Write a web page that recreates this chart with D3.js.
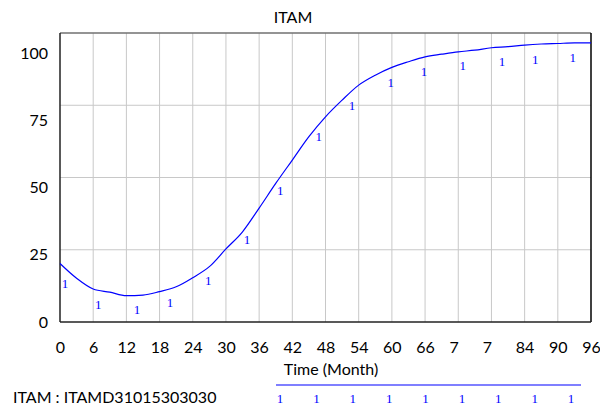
<!DOCTYPE html>
<html>
<head>
<script src="https://cdnjs.cloudflare.com/ajax/libs/d3/7.8.5/d3.min.js"></script>
<style>
body { margin: 0; background: #fff; }
</style>
</head>
<body>
<div id="chart"></div>
<script>
// series: ITAM, one value every 3 months
var months = [0, 3, 6, 9, 12, 15, 18, 21, 24, 27, 30, 33, 36, 39, 42, 45, 48,
	51, 54, 57, 60, 63, 66, 69, 72, 75, 78, 81, 84, 87, 90, 93, 96];
var itam = [21.8, 16.3, 12.3, 11.1, 9.8, 10.0, 11.3, 13.1, 16.5, 20.6, 27.2, 33.6, 42.4,
	51.6, 60.3, 69.0, 76.4, 82.6, 88.2, 91.9, 94.8, 96.9, 98.7, 99.7, 100.6, 101.2,
	102.1, 102.5, 103.1, 103.5, 103.7, 103.9, 103.9];

// the "1" run markers
var markerMonths = [0.9, 6.9, 13.9, 19.9, 26.8, 33.8, 39.8, 46.8, 52.8, 59.8, 65.8, 72.8, 79.9, 85.9, 92.7];
var markerValues = [14.5, 6.7, 4.5, 7.2, 15.6, 30.9, 48.9, 68.9, 80.8, 89.1, 93.4, 95.4, 96.9, 97.6, 98.5];

var xTicks = [0, 6, 12, 18, 24, 30, 36, 42, 48, 54, 60, 66, 72, 78, 84, 90, 96];
var xTickLabels = ["0", "6", "12", "18", "24", "30", "36", "42", "48", "54", "60", "66", "7", "7", "84", "90", "96"];
var yTicks = [0, 25, 50, 75, 100];

var title = "ITAM";
var xTitle = "Time (Month)";
var legendLabel = "ITAM : ITAMD31015303030";
var legendMarkers = 9;

var W = 600, H = 405;
var plot = { left: 60, right: 591, top: 33, bottom: 322 };
var yMax = 107.6;
var blue = "#0000ff";
var sans = "Lato, 'Open Sans', sans-serif";
var serif = "'Liberation Serif', 'DejaVu Serif', serif";

var svg = d3.select("#chart").append("svg")
	.attr("width", W)
	.attr("height", H)
	.style("font-family", sans);

var x = d3.scaleLinear().domain([0, 96]).range([plot.left, plot.right]);
var y = d3.scaleLinear().domain([0, yMax]).range([plot.bottom, plot.top]);

// grid: verticals on the month ticks, horizontals at quarters of the frame
var grid = svg.append("g").attr("stroke", "#c8c8c8").attr("stroke-width", 1);
grid.selectAll(".vgrid")
	.data(xTicks.slice(1, -1))
	.enter().append("line")
	.attr("x1", function(d) { return x(d); })
	.attr("x2", function(d) { return x(d); })
	.attr("y1", plot.top)
	.attr("y2", plot.bottom);
grid.selectAll(".hgrid")
	.data([1, 2, 3])
	.enter().append("line")
	.attr("x1", plot.left)
	.attr("x2", plot.right)
	.attr("y1", function(d) { return y(yMax * d / 4); })
	.attr("y2", function(d) { return y(yMax * d / 4); });

// frame
svg.append("line").attr("x1", plot.left).attr("x2", plot.right).attr("y1", plot.top).attr("y2", plot.top)
	.attr("stroke", "#707070").attr("stroke-width", 1.5);
svg.append("line").attr("x1", plot.right).attr("x2", plot.right).attr("y1", plot.top).attr("y2", plot.bottom)
	.attr("stroke", "#000").attr("stroke-width", 1.5);
svg.append("line").attr("x1", plot.left).attr("x2", plot.left).attr("y1", plot.top).attr("y2", plot.bottom)
	.attr("stroke", "#222").attr("stroke-width", 1.5);
svg.append("line").attr("x1", plot.left).attr("x2", plot.right).attr("y1", plot.bottom).attr("y2", plot.bottom)
	.attr("stroke", "#222").attr("stroke-width", 1.5);

// axes
var xAxis = svg.append("g")
	.attr("transform", "translate(0," + plot.bottom + ")")
	.call(d3.axisBottom(x).tickValues(xTicks).tickSize(0).tickPadding(20)
		.tickFormat(function(d, i) { return xTickLabels[i]; }));
xAxis.select(".domain").remove();
xAxis.selectAll("text")
	.attr("font-size", 16)
	.style("font-family", sans)
	.attr("fill", "#000")
	.each(function(d, i) {
		// clipped labels keep the left edge of the full number
		if (xTickLabels[i] !== String(d)) {
			var t = d3.select(this);
			t.text(String(d));
			var w = this.getComputedTextLength();
			t.text(xTickLabels[i]).attr("text-anchor", "start").attr("x", -w / 2);
		}
	});

var yAxis = svg.append("g")
	.attr("transform", "translate(" + (plot.left - 12) + ",0)")
	.call(d3.axisLeft(y).tickValues(yTicks).tickSize(0).tickPadding(0));
yAxis.select(".domain").remove();
yAxis.selectAll("text")
	.attr("font-size", 16)
	.style("font-family", sans)
	.attr("fill", "#000");

// title and axis title
svg.append("text")
	.attr("x", 293).attr("y", 17)
	.attr("dy", "0.35em")
	.attr("text-anchor", "middle")
	.attr("font-size", 16)
	.text(title);
svg.append("text")
	.attr("x", 331).attr("y", 369)
	.attr("dy", "0.35em")
	.attr("text-anchor", "middle")
	.attr("font-size", 16)
	.text(xTitle);

// the series
var line = d3.line()
	.curve(d3.curveMonotoneX)
	.x(function(d, i) { return x(months[i]); })
	.y(function(d) { return y(d); });
svg.append("path")
	.datum(itam)
	.attr("fill", "none")
	.attr("stroke", blue)
	.attr("stroke-width", 1.2)
	.attr("d", line);

svg.selectAll(".marker")
	.data(markerValues)
	.enter().append("text")
	.attr("class", "marker")
	.attr("x", function(d, i) { return x(markerMonths[i]); })
	.attr("y", function(d) { return y(d); })
	.attr("dy", "0.35em")
	.attr("text-anchor", "middle")
	.style("font-family", serif)
	.attr("font-size", 13)
	.attr("fill", blue)
	.text("1");

// legend
svg.append("text")
	.attr("x", 13).attr("y", 397)
	.attr("dy", "0.35em")
	.attr("font-size", 16)
	.text(legendLabel);
svg.append("line")
	.attr("x1", 276).attr("x2", 581).attr("y1", 385).attr("y2", 385)
	.attr("stroke", blue).attr("stroke-width", 1.2);
var lx = d3.scaleLinear().domain([0, legendMarkers - 1]).range([280, 571]);
svg.selectAll(".lmarker")
	.data(d3.range(legendMarkers))
	.enter().append("text")
	.attr("class", "lmarker")
	.attr("x", function(d) { return lx(d); })
	.attr("y", 398)
	.attr("dy", "0.35em")
	.attr("text-anchor", "middle")
	.style("font-family", serif)
	.attr("font-size", 13)
	.attr("fill", blue)
	.text("1");
</script>
</body>
</html>
